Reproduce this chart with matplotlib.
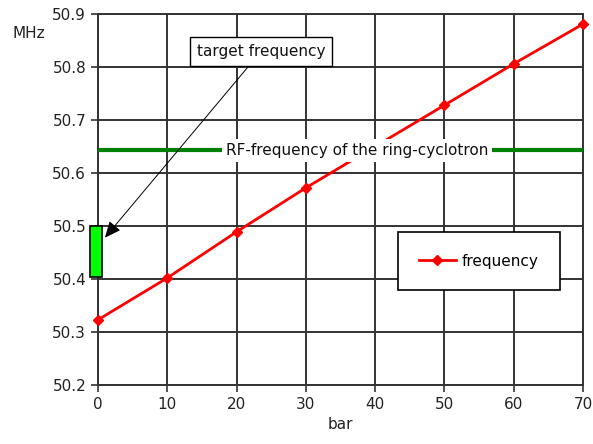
import matplotlib
matplotlib.use("Agg")
import matplotlib.pyplot as plt
from matplotlib.patches import Rectangle

plt.rcParams['font.family'] = ['DejaVu Sans']

# data
pressure_bar = [0, 10, 20, 30, 40, 50, 60, 70]
freq_mhz = [50.323, 50.402, 50.489, 50.572, 50.650, 50.728, 50.806, 50.881]
rf_ring = 50.643
target_lo, target_hi = 50.403, 50.500
x_ticks = [0, 10, 20, 30, 40, 50, 60, 70]
y_ticks = [50.2, 50.3, 50.4, 50.5, 50.6, 50.7, 50.8, 50.9]

fs = 11

fig = plt.figure(figsize=(5.93, 4.44), dpi=100)
ax = fig.add_axes([98/593, 1-385/444, (583-98)/593, (385-14)/444])

ax.set_xlim(0, 70)
ax.set_ylim(50.2, 50.9)
ax.set_xticks(x_ticks)
ax.set_yticks(y_ticks)
ax.set_yticklabels(['%.1f' % v for v in y_ticks])
ax.grid(True, color='#333333', lw=1.4)
ax.set_axisbelow(True)
for s in ax.spines.values():
    s.set_color('#333333')
    s.set_linewidth(1.4)
ax.tick_params(direction='out', length=5, width=1.2, color='#333333',
               labelsize=fs, labelcolor='#222222')

# RF-frequency line
ax.axhline(rf_ring, color='#008000', lw=3, zorder=3)

# frequency curve
ax.plot(pressure_bar, freq_mhz, color='#ff0000', lw=2, marker='D',
        markersize=5, label='frequency', zorder=4, clip_on=False)

# target frequency band
ax.add_patch(Rectangle((-1.1, target_lo), 1.7, target_hi - target_lo,
                       facecolor='#00ff00', edgecolor='black', lw=1.2,
                       clip_on=False, zorder=5))

ax.text(37.4, rf_ring, 'RF-frequency of the ring-cyclotron', fontsize=fs,
        ha='center', va='center', color='#111111', zorder=6,
        bbox=dict(facecolor='white', edgecolor='none', pad=3))

ax.annotate('target frequency', xy=(1.0, 50.478), xytext=(23.5, 50.829),
            fontsize=fs, ha='center', va='center', color='#111111', zorder=7,
            bbox=dict(boxstyle='square,pad=0.45', facecolor='white',
                      edgecolor='black', lw=1),
            arrowprops=dict(arrowstyle='-|>,head_length=0.9,head_width=0.4',
                            color='black', lw=0.7, shrinkA=0, shrinkB=0))

leg = ax.legend(loc='center', bbox_to_anchor=(0.785, 0.334), fontsize=fs,
                fancybox=False, framealpha=1, edgecolor='black',
                borderpad=1.4, handlelength=2.4, handletextpad=0.4)
leg.get_frame().set_linewidth(1.2)
leg.set_zorder(8)

ax.set_xlabel('bar', fontsize=fs, color='#222222', labelpad=4)
fig.text(29/593, 1-33/444, 'MHz', fontsize=fs, ha='center', va='center',
         color='#222222')

fig.savefig('out.png', dpi=100)
